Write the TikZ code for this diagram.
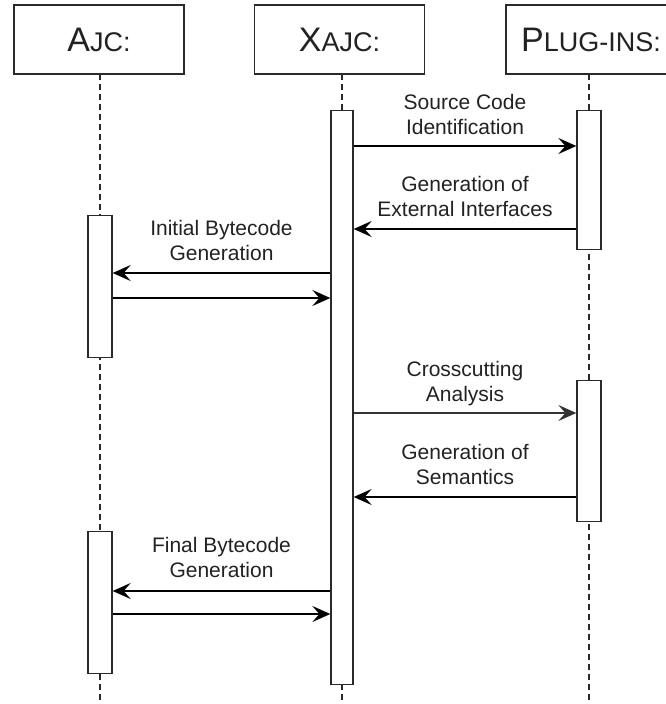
\documentclass[tikz,border=0pt]{standalone}
\usepackage{fontspec}
\setmainfont{Liberation Sans}
\usetikzlibrary{arrows.meta}
\definecolor{ink}{HTML}{222222}
\definecolor{edge}{HTML}{2A2A2A}
\newcommand{\hdrtxt}[2]{{\fontsize{34}{36}\selectfont #1}{\fontsize{27}{30}\selectfont #2}}
\begin{document}
\begin{tikzpicture}[x=1pt,y=-1pt,
  actor/.style={draw=edge, line width=1.3pt, minimum width=170pt, minimum height=69pt, inner sep=0pt, text=ink},
  actbar/.style={draw=edge, fill=white, line width=1.3pt, inner sep=0pt, anchor=north},
  life/.style={draw=edge, line width=1.2pt, dash pattern=on 6pt off 4pt},
  msg/.style={draw=black, line width=2pt, -{Stealth[length=18pt,width=16pt,inset=7pt]}},
  thinmsg/.style={draw=black!80, line width=1.4pt, -{Stealth[length=18pt,width=16pt,inset=7pt]}},
  lbl/.style={font=\fontsize{21}{25}\selectfont, align=center, anchor=south, inner sep=0pt, text=ink}]
\useasboundingbox[fill=white] (0,0) rectangle (665,704);

% header boxes
\node[actor] (ajc) at (99,39.5) {\hdrtxt{A}{JC:}};
\node[actor] (xajc) at (339.5,39.5) {\hdrtxt{X}{AJC:}};
\node[actor] (plug) at (591,39.5) {\hdrtxt{P}{LUG-INS:}};

% lifeline anchors
\coordinate (ajcl) at (100,74);
\coordinate (xajcl) at (342,74);
\coordinate (plugl) at (589,74);
\coordinate (ajcend) at (100,704);
\coordinate (xajcend) at (342,704);
\coordinate (plugend) at (589,704);

\draw[life] (ajcl) -- (ajcend);
\draw[life] (xajcl) -- (xajcend);
\draw[life] (plugl) -- (plugend);

% activation bars
\node[actbar, minimum width=22pt, minimum height=574pt] (xb) at (342,110) {};
\node[actbar, minimum width=24pt, minimum height=139pt] (pb1) at (589,110) {};
\node[actbar, minimum width=24pt, minimum height=141pt] (pb2) at (589,380) {};
\node[actbar, minimum width=24pt, minimum height=142pt] (ab1) at (100,215) {};
\node[actbar, minimum width=24pt, minimum height=142pt] (ab2) at (100,531) {};

% messages
\draw[msg] (xb.east |- 0,146) -- (pb1.west |- 0,146);
\draw[msg] (pb1.west |- 0,229) -- (xb.east |- 0,229);
\draw[msg] (xb.west |- 0,273) -- (ab1.east |- 0,273);
\draw[msg] (ab1.east |- 0,298) -- (xb.west |- 0,298);
\draw[thinmsg] (xb.east |- 0,413) -- (pb2.west |- 0,413);
\draw[msg] (pb2.west |- 0,497) -- (xb.east |- 0,497);
\draw[msg] (xb.west |- 0,591) -- (ab2.east |- 0,591);
\draw[msg] (ab2.east |- 0,614) -- (xb.west |- 0,614);

% labels
\node[lbl] (l1) at (465,135) {Source Code\\Identification};
\node[lbl] (l2) at (465,217) {Generation of\\External Interfaces};
\node[lbl] (l3) at (221.5,261) {Initial Bytecode\\Generation};
\node[lbl] (l4) at (465,406) {Crosscutting\\Analysis};
\node[lbl] (l5) at (465,485) {Generation of\\Semantics};
\node[lbl] (l6) at (221.5,578) {Final Bytecode\\Generation};
\end{tikzpicture}
\end{document}
